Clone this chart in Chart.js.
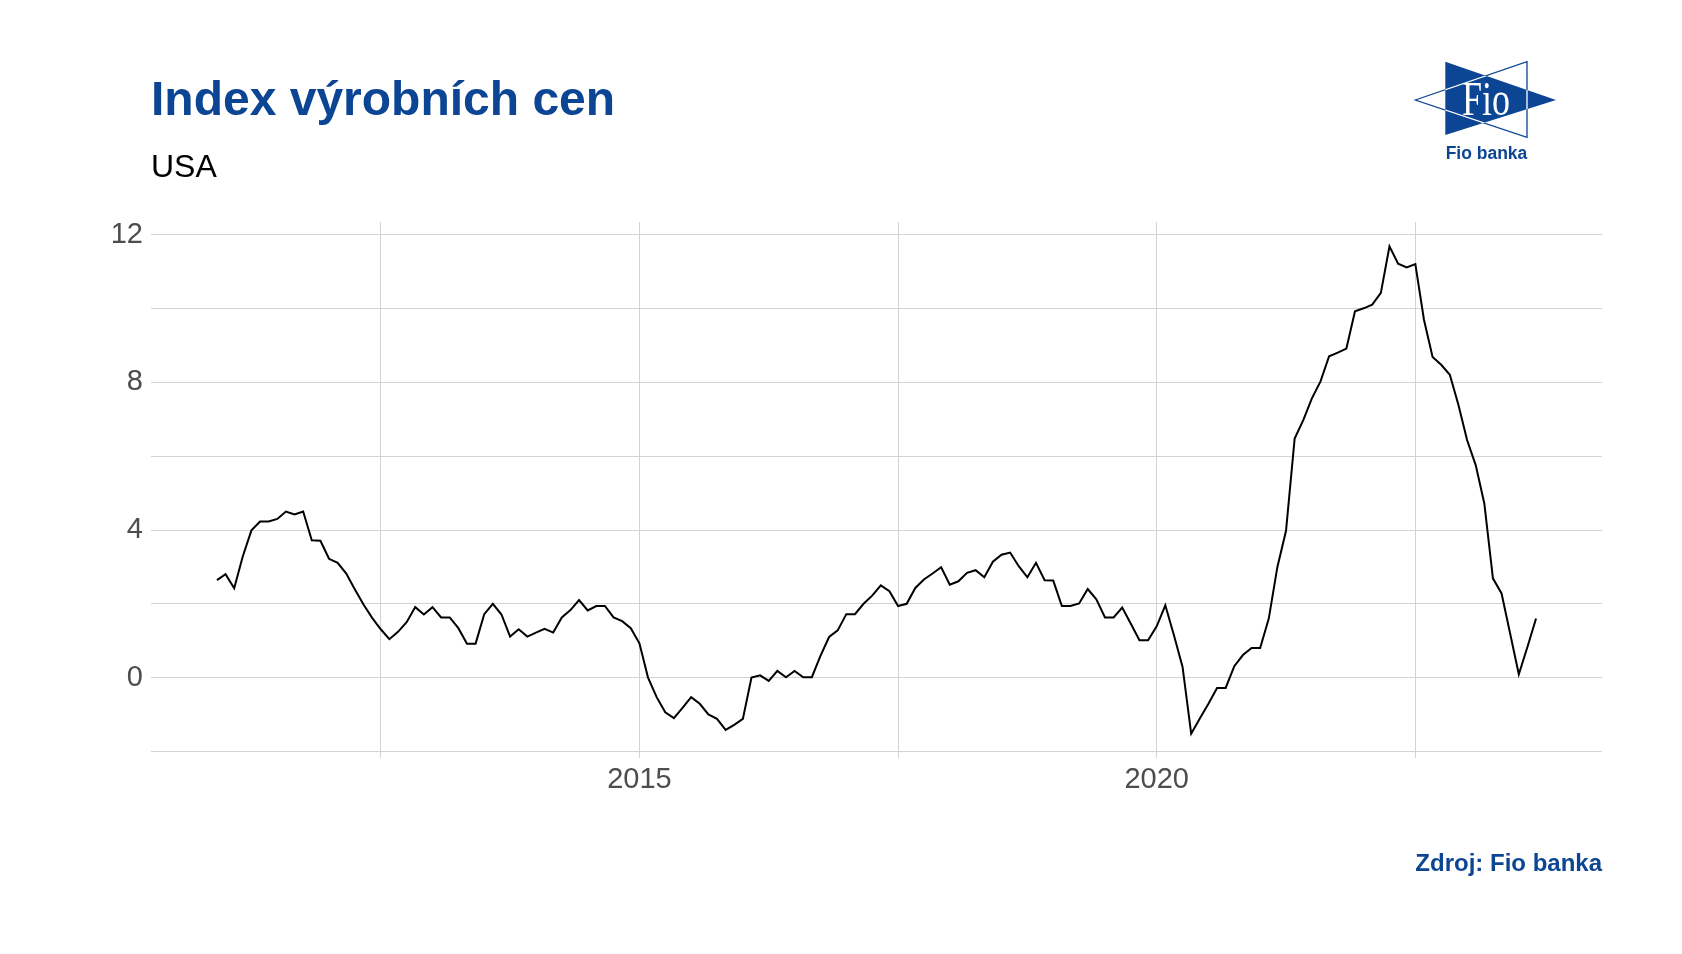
<!DOCTYPE html>
<html>
<head>
<meta charset="utf-8">
<title>Index výrobních cen</title>
<script src="https://cdn.jsdelivr.net/npm/chart.js@4.4.0/dist/chart.umd.min.js"></script>
<style>
  body { margin: 0; background: #fff; }
  #wrap { position: relative; width: 1682px; height: 954px; overflow: hidden; font-family: 'Liberation Sans', Arial, sans-serif; }
  #chart { position: absolute; left: 0; top: 0; }
  .title { position: absolute; left: 151px; top: 75px; font-size: 48px; line-height: 48px; font-weight: bold; color: #0c4593; white-space: nowrap; }
  .subtitle { position: absolute; left: 151px; top: 150px; font-size: 32px; line-height: 32px; color: #000; white-space: nowrap; }
  .source { position: absolute; right: 80px; top: 851px; font-size: 24px; line-height: 24px; font-weight: bold; color: #0c4593; white-space: nowrap; }
  #logo { position: absolute; left: 1402px; top: 50px; }
</style>
</head>
<body>
<div id="wrap">
  <canvas id="chart" width="1682" height="954"></canvas>
  <div class="title">Index výrobních cen</div>
  <div class="subtitle">USA</div>
  <div class="source">Zdroj: Fio banka</div>
  <svg id="logo" width="170" height="120" viewBox="0 0 170 120">
    <defs>
      <clipPath id="inA"><polygon points="43.3,11.7 154,50 43.3,85"/></clipPath>
    </defs>
    <polygon points="13.3,50 125,11.7 125,87.3" fill="none" stroke="#0c4593" stroke-width="1.3"/>
    <polygon points="43.3,11.7 154,50 43.3,85" fill="#0c4593"/>
    <polygon points="13.3,50 125,11.7 125,87.3" fill="none" stroke="#fff" stroke-width="1.3" clip-path="url(#inA)"/>
    <text x="60" y="65" font-family="'Liberation Serif', serif" font-size="48" fill="#fff" textLength="48" lengthAdjust="spacingAndGlyphs">Fio</text>
    <text x="84.5" y="109.3" text-anchor="middle" font-family="'Liberation Sans', Arial, sans-serif" font-weight="bold" font-size="17.5" fill="#0c4593">Fio banka</text>
  </svg>
</div>
<script>
// PPI YoY, monthly from Nov 2010 to Aug 2023 (x = month index)
var ppiValues = [
  2.64, 2.80, 2.42, 3.29, 3.99, 4.23, 4.23, 4.30, 4.50, 4.42, 4.50, 3.72,
  3.71, 3.22, 3.11, 2.82, 2.39, 1.98, 1.62, 1.31, 1.04, 1.24, 1.50, 1.91,
  1.71, 1.91, 1.63, 1.63, 1.34, 0.92, 0.92, 1.72, 2.00, 1.71, 1.11, 1.31,
  1.11, 1.22, 1.32, 1.22, 1.63, 1.83, 2.10, 1.82, 1.94, 1.94, 1.63, 1.53,
  1.34, 0.93, 0.00, -0.53, -0.94, -1.10, -0.82, -0.53, -0.71, -1.00, -1.12, -1.42,
  -1.28, -1.12, 0.00, 0.06, -0.09, 0.18, 0.01, 0.18, 0.01, 0.01, 0.59, 1.10,
  1.28, 1.72, 1.72, 2.00, 2.22, 2.50, 2.34, 1.94, 2.00, 2.43, 2.66, 2.82,
  2.99, 2.52, 2.61, 2.84, 2.91, 2.72, 3.14, 3.33, 3.39, 3.02, 2.72, 3.11,
  2.64, 2.63, 1.94, 1.94, 2.01, 2.40, 2.12, 1.63, 1.63, 1.90, 1.46, 1.01,
  1.01, 1.39, 1.96, 1.15, 0.29, -1.52, -1.11, -0.71, -0.28, -0.28, 0.31, 0.61,
  0.80, 0.80, 1.60, 3.00, 3.98, 6.48, 6.98, 7.57, 8.03, 8.71, 8.81, 8.92,
  9.93, 10.01, 10.11, 10.43, 11.69, 11.22, 11.12, 11.21, 9.70, 8.69, 8.48, 8.21,
  7.39, 6.44, 5.76, 4.72, 2.69, 2.28, 1.19, 0.09, 0.83, 1.60
];

// grid positions (month index) and their labels
var xTickPos = [19, 49, 79, 109, 139];
var xTickText = ['', '2015', '', '2020', ''];
var yTickPos = [-2, 0, 2, 4, 6, 8, 10, 12];
var yTickText = ['', '0', '', '4', '', '8', '', '12'];

var points = ppiValues.map(function (v, i) { return { x: i, y: v }; });

var gridColor = '#d2d2d2';
var tickFont = { family: "'Liberation Sans', Arial, sans-serif", size: 29 };

var ctx = document.getElementById('chart').getContext('2d');
var chart = new Chart(ctx, {
    type: 'line',
    data: {
        datasets: [{
            data: points,
            borderColor: '#000',
            borderWidth: 2,
            pointRadius: 0,
            tension: 0,
            fill: false
        }]
    },
    options: {
        responsive: false,
        animation: false,
        devicePixelRatio: 1,
        layout: { padding: { top: 222, right: 80, left: 0, bottom: 0 } },
        plugins: { legend: { display: false }, tooltip: { enabled: false } },
        scales: {
            x: {
                type: 'linear',
                min: -7.65,
                max: 160.65,
                afterBuildTicks: function (s) {
                    s.ticks = xTickPos.map(function (v) { return { value: v }; });
                },
                afterFit: function (s) { s.height = 196; },
                ticks: {
                    autoSkip: false, maxRotation: 0, padding: 5,
                    color: '#4d4d4d', font: tickFont,
                    callback: function (v) { return xTickText[xTickPos.indexOf(v)]; }
                },
                grid: { color: gridColor, lineWidth: 1, drawTicks: false },
                border: { display: false }
            },
            y: {
                min: -2.18,
                max: 12.35,
                afterBuildTicks: function (s) {
                    s.ticks = yTickPos.map(function (v) { return { value: v }; });
                },
                afterFit: function (s) { s.width = 151; },
                ticks: {
                    autoSkip: false, padding: 8,
                    color: '#4d4d4d', font: tickFont,
                    callback: function (v) { return yTickText[yTickPos.indexOf(v)]; }
                },
                grid: { color: gridColor, lineWidth: 1, drawTicks: false },
                border: { display: false }
            }
        }
    }
});
</script>
</body>
</html>
